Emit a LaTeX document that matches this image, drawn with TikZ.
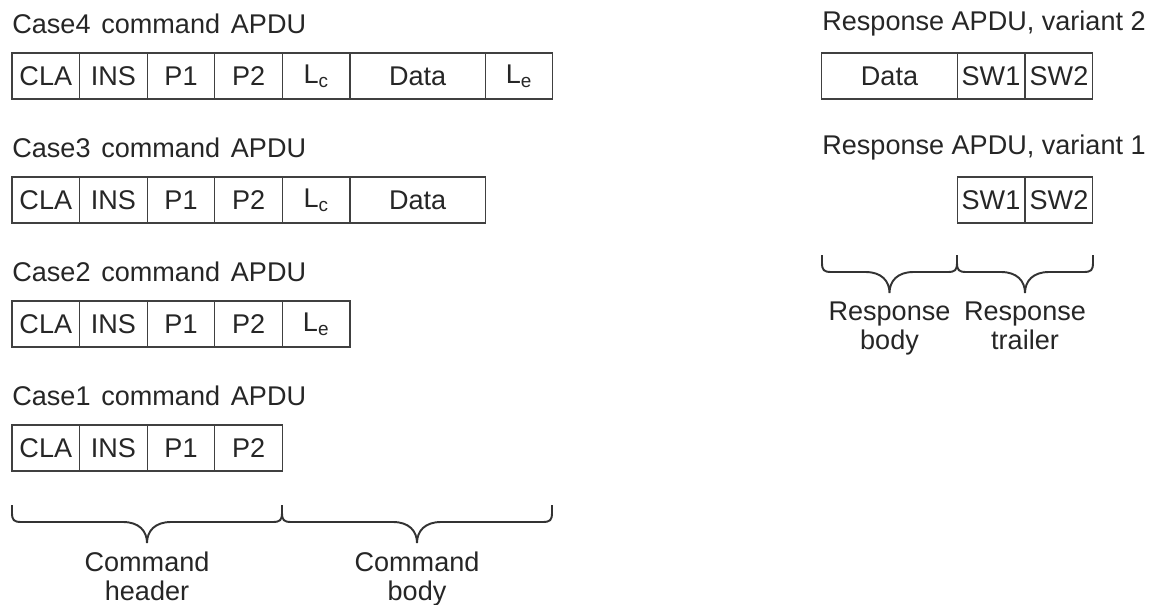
\documentclass[tikz,border=0pt]{standalone}
\usepackage{fontspec}
\setmainfont{Liberation Sans}
\usetikzlibrary{calc}

\tikzset{
  cell/.style={draw=black!75, line width=0.6pt, minimum width=1.352cm,
    minimum height=0.92cm, inner sep=0pt, outer sep=0pt, text=black!85},
  wide/.style={cell, minimum width=2.704cm},
  title/.style={anchor=west, inner sep=0pt, text=black!85},
  lbl/.style={align=center, anchor=north, inner sep=0pt, text=black!85},
  brc/.style={draw=black!80, line width=1.1pt}
}

\begin{document}
\begin{tikzpicture}[x=0.02cm, y=-0.02cm,
    font=\fontsize{15.4pt}{16pt}\selectfont]
  \useasboundingbox (0,0) rectangle (1154,605);
  % command APDUs
  \draw
    (12,24) node[title] (t4){Case4\hspace{0.4em}command\hspace{0.4em}APDU}
    (45.8,76) node[cell] (c4cla){CLA}
    (113.4,76) node[cell] (c4ins){INS}
    (181,76) node[cell] (c4p1){P1}
    (248.6,76) node[cell] (c4p2){P2}
    (316.2,76) node[cell] (c4lc){L\textsubscript{c}}
    (417.6,76) node[wide] (c4data){Data}
    (519,76) node[cell] (c4le){L\textsubscript{e}};
  \draw
    (12,148) node[title] (t3){Case3\hspace{0.4em}command\hspace{0.4em}APDU}
    (45.8,200) node[cell] (c3cla){CLA}
    (113.4,200) node[cell] (c3ins){INS}
    (181,200) node[cell] (c3p1){P1}
    (248.6,200) node[cell] (c3p2){P2}
    (316.2,200) node[cell] (c3lc){L\textsubscript{c}}
    (417.6,200) node[wide] (c3data){Data};
  \draw
    (12,272) node[title] (t2){Case2\hspace{0.4em}command\hspace{0.4em}APDU}
    (45.8,324) node[cell] (c2cla){CLA}
    (113.4,324) node[cell] (c2ins){INS}
    (181,324) node[cell] (c2p1){P1}
    (248.6,324) node[cell] (c2p2){P2}
    (316.2,324) node[cell] (c2le){L\textsubscript{e}};
  \draw
    (12,396) node[title] (t1){Case1\hspace{0.4em}command\hspace{0.4em}APDU}
    (45.8,448) node[cell] (c1cla){CLA}
    (113.4,448) node[cell] (c1ins){INS}
    (181,448) node[cell] (c1p1){P1}
    (248.6,448) node[cell] (c1p2){P2};
  % response APDUs
  \draw
    (822,24) node[title] (rt2){Response APDU, variant 2}
    (889.5,76) node[wide] (r2data){Data}
    (991,76) node[cell] (r2sw1){SW1}
    (1059,76) node[cell] (r2sw2){SW2};
  \draw
    (822,148) node[title] (rt1){Response APDU, variant 1}
    (991,200) node[cell] (r1sw1){SW1}
    (1059,200) node[cell] (r1sw2){SW2};
  % braces
  \coordinate (ha) at (12,505);
  \coordinate (hb) at (282,505);
  \coordinate (hc) at (552,505);
  \coordinate (ra) at (822,255);
  \coordinate (rb) at (957,255);
  \coordinate (rc) at (1093,255);
  \foreach \a/\b in {ha/hb, hb/hc, ra/rb, rb/rc} {
    \coordinate (m) at ($(\a)!0.5!(\b)$);
    \draw[brc] (\a) -- ++(0,8) .. controls +(0,7) and +(-7,0) .. ++(9,9)
      -- ($(m)+(-24,17)$) .. controls +(16,0) and +(0,-12) .. ($(m)+(0,38)$)
      .. controls +(0,-12) and +(-16,0) .. ($(m)+(24,17)$)
      -- ($(\b)+(-9,17)$) .. controls +(7,0) and +(0,7) .. ($(\b)+(0,8)$)
      -- (\b);
  }
  \node[lbl] (hdr) at (147,552) {Command\\header};
  \node[lbl] (bdy) at (417,552) {Command\\body};
  \node[lbl] (rbdy) at (889.5,302) {Response\\body};
  \node[lbl] (rtrl) at (1025,302) {Response\\trailer};
\end{tikzpicture}
\end{document}
